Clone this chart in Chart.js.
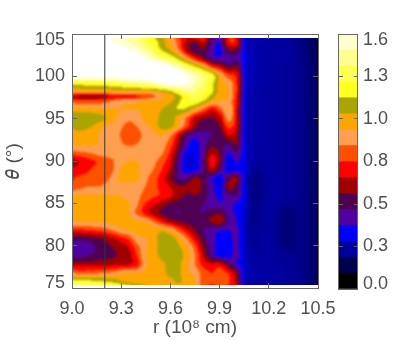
<!DOCTYPE html>
<html>
<head>
<meta charset="utf-8">
<script src="https://cdn.jsdelivr.net/npm/chart.js@4"></script>
<style>
body { margin: 0; background: #fff; }
canvas { position: absolute; top: 0; }
#mapa { left: 0; }
#barra { left: 320px; }
</style>
</head>
<body>
<canvas id="mapa" width="396" height="340"></canvas>
<canvas id="barra" width="76" height="340"></canvas>
<script>
const rValues = [9.0, 9.05, 9.1, 9.15, 9.2, 9.25, 9.3, 9.35, 9.4, 9.45, 9.5, 9.55, 9.6, 9.65, 9.7, 9.75, 9.8, 9.85, 9.9, 9.95, 10.0, 10.05, 10.1, 10.2, 10.3, 10.4, 10.5]
const thetaValues = [75.4, 76, 77, 78, 79, 80, 81, 82, 83, 84, 85, 86, 87, 88, 89, 90, 91, 92, 93, 94, 95, 96, 97, 97.5, 98, 99, 100, 101, 102, 103, 104, 104.5]

// one row per theta, one value per r
const fieldRows = [
  [1.42,1.42,1.40,1.38,1.35,1.32,1.28,1.24,1.17,1.12,1.05,1.02,1.03,1.06,1.02,1.00,0.85,0.78,0.82,0.78,0.70,0.30,0.26,0.25,0.24,0.22,0.16],
  [1.28,1.27,1.25,1.22,1.20,1.17,1.12,1.06,1.03,1.02,1.02,1.02,1.06,1.12,1.05,1.00,0.85,0.82,0.87,0.82,0.65,0.30,0.26,0.25,0.24,0.22,0.16],
  [0.90,0.88,0.88,0.88,0.90,0.92,0.97,1.00,1.00,1.02,1.05,1.06,1.13,1.12,1.02,0.97,0.85,0.80,0.85,0.78,0.60,0.30,0.26,0.25,0.24,0.22,0.16],
  [0.68,0.66,0.66,0.66,0.66,0.68,0.68,0.70,0.76,0.97,1.03,1.08,1.12,1.12,1.02,0.90,0.76,0.72,0.73,0.55,0.40,0.29,0.25,0.25,0.24,0.22,0.16],
  [0.48,0.47,0.50,0.53,0.56,0.58,0.62,0.66,0.80,0.99,1.05,1.13,1.17,1.15,1.05,0.90,0.68,0.48,0.36,0.36,0.44,0.29,0.25,0.25,0.23,0.22,0.16],
  [0.42,0.43,0.45,0.50,0.56,0.60,0.64,0.70,0.85,0.98,1.05,1.16,1.19,1.12,1.02,0.85,0.62,0.46,0.36,0.36,0.42,0.28,0.24,0.25,0.21,0.22,0.16],
  [0.55,0.53,0.55,0.58,0.62,0.68,0.75,0.82,0.96,0.99,1.05,1.15,1.16,1.05,0.90,0.72,0.55,0.44,0.36,0.37,0.42,0.28,0.24,0.25,0.20,0.22,0.16],
  [0.78,0.78,0.80,0.82,0.85,0.90,0.97,1.01,1.03,1.10,1.05,1.07,1.00,0.85,0.72,0.60,0.50,0.44,0.42,0.40,0.42,0.28,0.24,0.25,0.20,0.22,0.16],
  [1.00,1.00,1.01,1.01,1.02,1.03,1.03,1.02,1.01,1.00,0.88,0.76,0.66,0.60,0.56,0.56,0.55,0.62,0.66,0.48,0.40,0.28,0.22,0.25,0.20,0.22,0.16],
  [1.03,1.03,1.03,1.02,1.02,1.02,1.02,1.01,0.88,0.76,0.66,0.58,0.52,0.50,0.52,0.52,0.50,0.55,0.58,0.45,0.38,0.29,0.22,0.25,0.20,0.22,0.16],
  [1.02,1.03,1.03,1.02,1.02,1.02,1.02,1.01,0.92,0.80,0.72,0.65,0.58,0.54,0.52,0.52,0.50,0.45,0.42,0.42,0.38,0.30,0.22,0.25,0.23,0.22,0.16],
  [1.00,1.01,1.01,1.01,1.01,1.00,1.00,0.97,0.93,0.87,0.82,0.78,0.72,0.65,0.58,0.60,0.55,0.45,0.38,0.47,0.50,0.32,0.21,0.25,0.24,0.22,0.16],
  [0.82,0.86,0.90,0.90,0.92,0.97,0.98,0.96,0.95,0.90,0.83,0.77,0.70,0.62,0.62,0.68,0.56,0.45,0.33,0.62,0.55,0.31,0.21,0.25,0.24,0.22,0.16],
  [0.78,0.82,0.84,0.84,0.86,0.92,1.02,1.03,1.02,0.93,0.85,0.75,0.62,0.50,0.50,0.62,0.55,0.42,0.33,0.55,0.62,0.30,0.21,0.25,0.24,0.22,0.16],
  [0.72,0.74,0.78,0.82,0.84,0.88,1.00,1.03,1.02,0.95,0.90,0.80,0.68,0.48,0.33,0.36,0.48,0.68,0.50,0.33,0.38,0.31,0.24,0.25,0.24,0.22,0.16],
  [0.66,0.70,0.76,0.80,0.84,0.88,0.97,1.00,1.00,0.98,0.93,0.85,0.72,0.50,0.32,0.33,0.50,0.74,0.60,0.33,0.42,0.31,0.25,0.25,0.24,0.22,0.16],
  [0.86,0.88,0.90,0.93,0.96,0.97,0.98,0.97,0.97,0.98,0.97,0.92,0.78,0.55,0.36,0.34,0.48,0.68,0.58,0.40,0.50,0.31,0.26,0.25,0.24,0.22,0.16],
  [1.02,1.02,1.02,1.01,0.98,0.96,0.92,0.88,0.90,0.96,0.98,0.95,0.85,0.65,0.44,0.37,0.46,0.55,0.52,0.52,0.60,0.31,0.26,0.25,0.24,0.22,0.16],
  [1.04,1.05,1.05,1.02,0.98,0.96,0.90,0.85,0.86,0.93,0.98,1.00,0.92,0.72,0.50,0.43,0.48,0.50,0.52,0.70,0.62,0.31,0.26,0.25,0.24,0.22,0.16],
  [1.10,1.15,1.12,1.08,1.00,0.96,0.92,0.87,0.90,0.97,1.03,1.14,1.13,1.00,0.82,0.62,0.53,0.53,0.60,0.82,0.70,0.32,0.26,0.25,0.24,0.22,0.16],
  [1.15,1.18,1.18,1.15,1.12,1.03,0.98,0.93,0.95,1.02,1.06,1.12,1.14,1.05,0.88,0.70,0.62,0.60,0.68,0.95,0.72,0.32,0.26,0.25,0.24,0.22,0.16],
  [1.05,1.05,1.05,1.03,1.01,1.00,1.00,1.00,1.00,1.02,1.05,1.10,1.16,1.20,1.17,1.02,0.88,0.74,0.85,1.00,0.72,0.31,0.26,0.25,0.24,0.22,0.16],
  [0.85,0.82,0.82,0.82,0.85,0.90,0.96,0.97,0.98,1.00,1.02,1.03,1.08,1.18,1.28,1.30,1.20,1.05,1.00,0.97,0.74,0.31,0.26,0.25,0.24,0.22,0.16],
  [0.72,0.66,0.65,0.65,0.66,0.72,0.74,0.76,0.78,0.82,0.88,0.98,1.05,1.15,1.28,1.32,1.28,1.15,1.03,1.01,0.76,0.32,0.26,0.25,0.24,0.22,0.16],
  [0.98,0.98,0.98,0.98,0.98,1.00,1.00,1.00,1.02,1.02,1.02,1.08,1.15,1.30,1.40,1.40,1.32,1.22,1.05,1.00,0.78,0.33,0.26,0.25,0.24,0.22,0.16],
  [1.25,1.26,1.27,1.28,1.28,1.32,1.35,1.40,1.42,1.45,1.50,1.60,1.65,1.62,1.60,1.50,1.40,1.25,1.04,0.97,0.78,0.33,0.27,0.25,0.24,0.22,0.16],
  [1.70,1.70,1.70,1.70,1.70,1.70,1.70,1.70,1.70,1.70,1.70,1.70,1.70,1.65,1.60,1.50,1.40,1.28,1.02,0.82,0.75,0.33,0.27,0.25,0.24,0.22,0.16],
  [1.70,1.70,1.70,1.70,1.70,1.70,1.70,1.70,1.70,1.70,1.70,1.70,1.60,1.50,1.35,1.20,1.05,0.80,0.70,0.55,0.60,0.31,0.27,0.25,0.24,0.22,0.16],
  [1.70,1.70,1.70,1.70,1.70,1.70,1.70,1.70,1.70,1.60,1.50,1.40,1.30,1.15,0.95,0.75,0.60,0.45,0.42,0.45,0.48,0.32,0.27,0.25,0.25,0.21,0.16],
  [1.70,1.70,1.70,1.70,1.70,1.70,1.70,1.60,1.55,1.45,1.35,1.18,1.08,0.90,0.65,0.55,0.60,0.45,0.38,0.60,0.60,0.31,0.27,0.25,0.25,0.21,0.15],
  [1.70,1.70,1.70,1.70,1.65,1.60,1.55,1.50,1.45,1.35,1.25,1.14,1.02,0.85,0.68,0.62,0.72,0.50,0.42,0.78,0.75,0.31,0.27,0.25,0.25,0.21,0.15],
  [1.70,1.70,1.70,1.70,1.65,1.60,1.55,1.50,1.42,1.32,1.22,1.12,1.00,0.82,0.72,0.78,0.82,0.55,0.45,0.75,0.72,0.31,0.27,0.25,0.25,0.21,0.15]
]

const lineR = [9.2, 9.2]
const lineTheta = [75, 105]

const rTicks = [9.0, 9.3, 9.6, 9.9, 10.2, 10.5]
const thetaTicks = [75, 80, 85, 90, 95, 100, 105]
const barTicks = [0, 0.2667, 0.5333, 0.8, 1.0667, 1.3333, 1.6]
const barTickLabels = ['0.0', '0.3', '0.5', '0.8', '1.0', '1.3', '1.6']

// 16 bands of 0.1 each, above the last one is white
const bandColors = ['#000000', '#000050', '#0000a0', '#0000ff', '#5000a0', '#500050', '#a00000', '#ff0000',
  '#ff5000', '#ff9f50', '#ffa500', '#aaa500', '#ffff20', '#ffff50', '#ffff90', '#ffffd0']
const bandStarts = [0, 0.1, 0.2, 0.3, 0.4, 0.5, 0.6, 0.7, 0.8, 0.9, 1.0, 1.1, 1.2, 1.3, 1.4, 1.5]
const bandEnds = [0.1, 0.2, 0.3, 0.4, 0.5, 0.6, 0.7, 0.8, 0.9, 1.0, 1.1, 1.2, 1.3, 1.4, 1.5, 1.6]

const lineaEje = '#666666'
const colorTexto = '#505050'
const fuente = { family: '"Liberation Sans", sans-serif', size: 18 }
const fuenteTitulo = { family: '"Liberation Sans", sans-serif', size: 19 }

function hexARgb(hex) {
  return [parseInt(hex.slice(1, 3), 16), parseInt(hex.slice(3, 5), 16), parseInt(hex.slice(5, 7), 16)]
}

function buscarIndice(lista, v) {
  let i = 0
  while (i < lista.length - 2 && lista[i + 1] <= v) i++
  return i
}

function catmull(a, b, c, d, f) {
  return b + 0.5 * f * (c - a + f * (2 * a - 5 * b + 4 * c - d + f * (3 * (b - c) + d - a)))
}

// lectura suave de la grilla para que no queden rombos de la interpolacion lineal
function valorEn(r, t) {
  const i = buscarIndice(rValues, r)
  const j = buscarIndice(thetaValues, t)
  const u = (r - rValues[i]) / (rValues[i + 1] - rValues[i])
  const w = (t - thetaValues[j]) / (thetaValues[j + 1] - thetaValues[j])
  const filas = []
  for (let dj = -1; dj <= 2; dj++) {
    const fila = fieldRows[Math.min(Math.max(j + dj, 0), fieldRows.length - 1)]
    const a = fila[Math.max(i - 1, 0)]
    const d = fila[Math.min(i + 2, fila.length - 1)]
    filas.push(catmull(a, fila[i], fila[i + 1], d, u))
  }
  return catmull(filas[0], filas[1], filas[2], filas[3], w)
}

function colorDe(v, rgb) {
  // los azules oscuros pasan suave de un tono al otro, como en el original
  if (v < 0.35) {
    const p = Math.max(v * 10 - 0.5, 0)
    const n = Math.floor(p)
    const f = p - n
    return rgb[n].map((c, i) => c + (rgb[n + 1][i] - c) * f)
  }
  const n = Math.floor(v * 10)
  return n >= rgb.length ? [255, 255, 255] : rgb[n]
}

const mapaCalor = {
  id: 'mapaCalor',
  beforeDatasetsDraw(chart) {
    const { ctx, scales } = chart
    const x0 = Math.round(scales.x.getPixelForValue(rValues[0]))
    const x1 = Math.round(scales.x.getPixelForValue(rValues[rValues.length - 1]))
    const y0 = Math.round(scales.y.getPixelForValue(thetaValues[thetaValues.length - 1]))
    const y1 = Math.round(scales.y.getPixelForValue(thetaValues[0]))
    const ancho = x1 - x0
    const alto = y1 - y0
    const rgb = bandColors.map(hexARgb)
    const capa = document.createElement('canvas')
    capa.width = ancho
    capa.height = alto
    const capaCtx = capa.getContext('2d')
    const img = capaCtx.createImageData(ancho, alto)
    for (let py = 0; py < alto; py++) {
      const t = scales.y.getValueForPixel(y0 + py + 0.5)
      for (let px = 0; px < ancho; px++) {
        const r = scales.x.getValueForPixel(x0 + px + 0.5)
        const c = colorDe(valorEn(r, t), rgb)
        const k = (py * ancho + px) * 4
        img.data[k] = c[0]
        img.data[k + 1] = c[1]
        img.data[k + 2] = c[2]
        img.data[k + 3] = 255
      }
    }
    capaCtx.putImageData(img, 0, 0)
    ctx.save()
    ctx.beginPath()
    ctx.rect(x0, y0, ancho, alto)
    ctx.clip()
    ctx.filter = 'blur(1px)'
    // dibujo tambien el borde estirado para que el blur no lo aclare
    ctx.drawImage(capa, x0 - 2, y0 - 2, ancho + 4, alto + 4)
    ctx.restore()
  }
}

// los extremos de los ejes van corridos hacia adentro, como en el original
const corrimientoEtiquetas = {
  id: 'corrimientoEtiquetas',
  beforeDraw(chart) {
    const escala = chart.scales.y
    if (escala.corrido) return
    const items = escala.getLabelItems()
    items.forEach(item => {
      if (item.label === '105' || item.label === '1.6') item.options.translation[1] += 6
      if (item.label === '75' || item.label === '0.0') item.options.translation[1] -= 5
    })
    escala.corrido = true
  }
}

function ejeSinEtiquetas(posicion, axisTicks, tam) {
  return {
    type: 'linear',
    position: posicion,
    afterBuildTicks: s => { s.ticks = axisTicks.map(value => ({ value })) },
    ticks: { display: false },
    grid: { drawOnChartArea: false, tickLength: -5, tickColor: lineaEje, z: 1 },
    border: { color: lineaEje, z: 1 },
    afterFit: s => {
      if (s.isHorizontal()) s.height = tam
      else s.width = tam
    }
  }
}

const ejeArriba = ejeSinEtiquetas('top', rTicks, 34)
ejeArriba.min = 9
ejeArriba.max = 10.5
const ejeDerecha = ejeSinEtiquetas('right', thetaTicks, 78)
ejeDerecha.min = 75
ejeDerecha.max = 105

new Chart(document.getElementById('mapa'), {
  type: 'scatter',
  data: {
    datasets: [{
      data: lineR.map((r, i) => ({ x: r, y: lineTheta[i] })),
      showLine: true,
      pointRadius: 0,
      borderColor: '#333333',
      borderWidth: 1
    }]
  },
  options: {
    responsive: false,
    animation: false,
    devicePixelRatio: 1,
    layout: { padding: { top: 0, bottom: 0, left: 0, right: 0 } },
    plugins: { legend: { display: false }, tooltip: { enabled: false } },
    scales: {
      x: {
        type: 'linear',
        min: 9,
        max: 10.5,
        afterBuildTicks: s => { s.ticks = rTicks.map(value => ({ value })) },
        afterFit: s => { s.height = 52 },
        ticks: { color: colorTexto, font: fuente, padding: 15, maxRotation: 0, callback: v => v.toFixed(1) },
        grid: { drawOnChartArea: false, tickLength: -5, tickColor: lineaEje, z: 1 },
        border: { color: lineaEje, z: 1 },
        title: { display: true, text: 'r (10⁸ cm)', color: colorTexto, font: fuenteTitulo, padding: { top: 0, bottom: 1 } }
      },
      y: {
        type: 'linear',
        min: 75,
        max: 105,
        afterBuildTicks: s => { s.ticks = thetaTicks.map(value => ({ value })) },
        afterFit: s => { s.width = 72 },
        ticks: { color: colorTexto, font: fuente, padding: 12, callback: v => String(v) },
        grid: { drawOnChartArea: false, tickLength: -5, tickColor: lineaEje, z: 1 },
        border: { color: lineaEje, z: 1 },
        title: { display: true, text: '𝜃 (°)', color: colorTexto, font: fuenteTitulo, padding: { top: 2, bottom: 0 } }
      },
      x2: ejeArriba,
      y2: ejeDerecha
    }
  },
  plugins: [mapaCalor, corrimientoEtiquetas]
})

function ejeBarraBorde(posicion, tam) {
  return {
    type: 'linear',
    position: posicion,
    min: 0,
    max: 1,
    ticks: { display: false },
    grid: { display: false },
    border: { color: lineaEje, z: 1 },
    afterFit: s => { s.height = tam }
  }
}

new Chart(document.getElementById('barra'), {
  type: 'bar',
  data: {
    labels: [''],
    datasets: bandColors.map((color, i) => ({
      data: [[bandStarts[i], bandEnds[i]]],
      backgroundColor: color,
      borderWidth: 0,
      grouped: false,
      barPercentage: 1,
      categoryPercentage: 1
    }))
  },
  options: {
    responsive: false,
    animation: false,
    devicePixelRatio: 1,
    layout: { padding: { top: 0, bottom: 0, left: 0, right: 0 } },
    plugins: { legend: { display: false }, tooltip: { enabled: false } },
    scales: {
      x: { ticks: { display: false }, grid: { display: false }, border: { color: lineaEje, z: 1 }, afterFit: s => { s.height = 51 } },
      x2: ejeBarraBorde('top', 34),
      y: {
        position: 'right',
        min: 0,
        max: 1.6,
        afterBuildTicks: s => { s.ticks = barTicks.map(value => ({ value })) },
        afterFit: s => { s.width = 39 },
        ticks: { color: colorTexto, font: fuente, padding: 9, callback: (v, i) => barTickLabels[i] },
        grid: { drawOnChartArea: false, tickLength: -3, tickColor: lineaEje, z: 1 },
        border: { color: lineaEje, z: 1 }
      },
      y2: Object.assign(ejeSinEtiquetas('left', barTicks, 18), { min: 0, max: 1.6 })
    }
  },
  plugins: [corrimientoEtiquetas]
})
</script>
</body>
</html>
